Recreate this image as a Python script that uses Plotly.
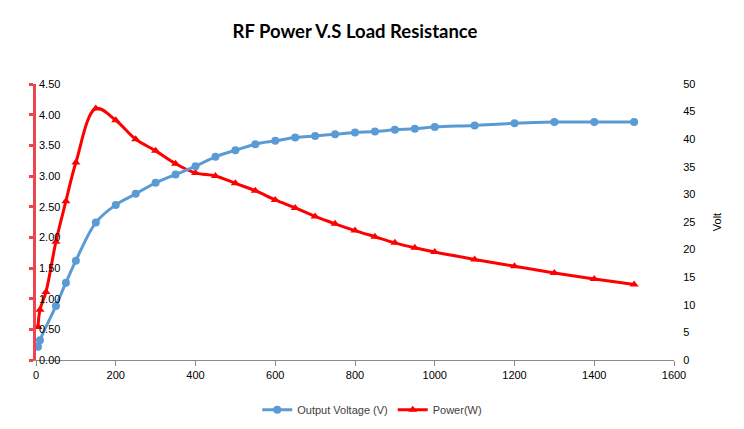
import plotly.graph_objects as go

# Data
load_power = [5, 10, 25, 50, 75, 100, 150, 200, 250, 300, 350, 400, 450, 500, 550,
              600, 650, 700, 750, 800, 850, 900, 950, 1000, 1100, 1200, 1300, 1400, 1500]
power_w = [0.54, 0.82, 1.11, 1.93, 2.59, 3.22, 4.10, 3.91, 3.60, 3.41, 3.20, 3.05, 3.00, 2.88, 2.76,
           2.61, 2.48, 2.34, 2.22, 2.11, 2.01, 1.91, 1.83, 1.76, 1.64, 1.53, 1.42, 1.32, 1.23]

load_volt = [5, 10, 50, 75, 100, 150, 200, 250, 300, 350, 400, 450, 500, 550,
             600, 650, 700, 750, 800, 850, 900, 950, 1000, 1100, 1200, 1300, 1400, 1500]
voltage_v = [2.4, 3.6, 9.8, 14.0, 18.0, 24.9, 28.1, 30.1, 32.1, 33.6, 35.1, 36.8, 38.0, 39.1,
             39.7, 40.3, 40.6, 40.9, 41.2, 41.4, 41.7, 41.9, 42.2, 42.5, 42.9, 43.1, 43.1, 43.1]

left_ticks = [0, 0.5, 1.0, 1.5, 2.0, 2.5, 3.0, 3.5, 4.0, 4.5]
right_ticks = [0, 5, 10, 15, 20, 25, 30, 35, 40, 45, 50]
x_ticks = [0, 200, 400, 600, 800, 1000, 1200, 1400, 1600]

BLUE = "#5b9bd5"
RED = "#ff0000"
AXRED = "#ee4450"
FONT = "Liberation Sans"

fig = go.Figure()

fig.add_trace(go.Scatter(
    x=load_power, y=power_w, name="Power(W)", mode="lines+markers",
    line=dict(color=RED, width=3, shape="spline", smoothing=1.0),
    marker=dict(symbol="triangle-up", size=8, color=RED),
    yaxis="y", legendrank=2, cliponaxis=False,
))
fig.add_trace(go.Scatter(
    x=load_volt, y=voltage_v, name="Output Voltage (V)", mode="lines+markers",
    line=dict(color=BLUE, width=3, shape="spline", smoothing=1.0),
    marker=dict(symbol="circle", size=8, color=BLUE),
    yaxis="y2", legendrank=1, cliponaxis=False,
))

# Left-axis tick labels drawn just inside the plot, right of the red axis line
annotations = [
    dict(x=0, xref="paper", y=v, yref="y", text=f"{v:.2f}", showarrow=False,
         xanchor="left", yanchor="middle", xshift=1,
         font=dict(family=FONT, size=11, color="#000000"))
    for v in left_ticks
]

# The page body has an 8px default margin, so the figure is sized to fit after it
fig.update_layout(
    width=736, height=421, autosize=False,
    margin=dict(l=28, r=70, t=76, b=69, autoexpand=False),
    paper_bgcolor="white", plot_bgcolor="white",
    font=dict(family=FONT, size=11, color="#000000"),
    title=dict(text="<b>RF Power V.S Load Resistance</b>", x=0.5, xanchor="center",
               xref="paper", y=1 - 24 / 421, yanchor="middle", yref="container",
               font=dict(family="Lato", size=18.5, color="#000000")),
    xaxis=dict(range=[0, 1600], tickvals=x_ticks, showgrid=False, zeroline=False,
               showline=True, linecolor="#898989", linewidth=1,
               ticks="outside", ticklen=5, tickcolor="#898989", automargin=False,
               tickfont=dict(size=11, color="#000000")),
    yaxis=dict(range=[0, 4.5], tickvals=left_ticks, showticklabels=False,
               showgrid=False, zeroline=False, automargin=False,
               showline=True, linecolor=AXRED, linewidth=3,
               ticks="outside", ticklen=4, tickwidth=3, tickcolor=AXRED),
    yaxis2=dict(range=[0, 50], tickvals=right_ticks, overlaying="y", side="right",
                showgrid=False, zeroline=False, showline=False, automargin=False,
                ticks="outside", ticklen=6, tickcolor="rgba(0,0,0,0)",
                tickfont=dict(size=11, color="#000000"),
                title=dict(text="Volt", font=dict(size=11, color="#000000"), standoff=18)),
    legend=dict(orientation="h", x=0.527, xanchor="center", y=-0.18, yanchor="middle",
                font=dict(size=11, color="#404040"), bgcolor="rgba(0,0,0,0)"),
    annotations=annotations,
    showlegend=True,
)

fig.write_html("out.html")
